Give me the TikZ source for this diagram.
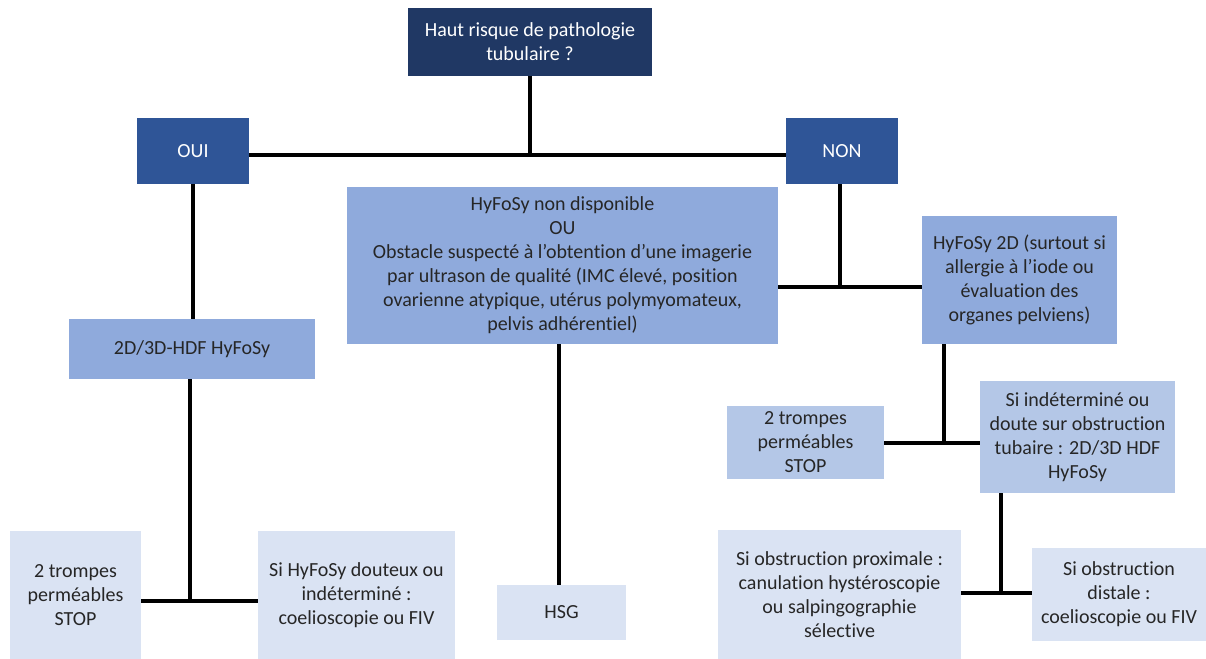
\documentclass[tikz,border=0pt]{standalone}
\usepackage{fontspec}
\setmainfont{Carlito}[Ligatures=CommonOff]
\usetikzlibrary{fit}
\definecolor{navy}{HTML}{203864}
\definecolor{midblue}{HTML}{2F5597}
\definecolor{boxA}{HTML}{8FAADC}
\definecolor{boxB}{HTML}{B4C7E7}
\definecolor{boxC}{HTML}{DAE3F3}
\definecolor{txt}{HTML}{262626}
\begin{document}
\begin{tikzpicture}[x=0.75pt,y=-0.75pt,
  base/.style={inner sep=0pt, align=center, font=\fontsize{15}{18}\selectfont, text=txt},
  dark/.style={base, fill=navy, text=white},
  mid/.style={base, fill=midblue, text=white},
  lvA/.style={base, fill=boxA},
  lvB/.style={base, fill=boxB},
  lvC/.style={base, fill=boxC},
  link/.style={line width=3.6pt, black}]
\useasboundingbox (0,0) rectangle (1206,659);

\node[dark, fit={(408,8)(652,76)}] (top) {};
\node[base, text=white] at (top.center) {Haut risque de pathologie\\tubulaire ?};

\node[mid, fit={(137,118)(249,184)}] (oui) {};
\node[base, text=white] at (oui.center) {OUI};
\node[mid, fit={(786,118)(898,184)}] (non) {};
\node[base, text=white] at (non.center) {NON};

\node[lvA, fit={(347,187)(778,344)}] (ctr) {};
\node[base] at (ctr.center) {HyFoSy non disponible\\OU\\Obstacle suspecté à l’obtention d’une imagerie\\par ultrason de qualité (IMC élevé, position\\ovarienne atypique, utérus polymyomateux,\\pelvis adhérentiel)};

\node[lvA, fit={(922,216)(1117,344)}] (hf2d) {};
\node[base] at (hf2d.center) {HyFoSy 2D (surtout si\\allergie à l’iode ou\\évaluation des\\organes pelviens)};

\node[lvA, fit={(69,319)(315,379)}] (hdf) {};
\node[base] at (hdf.center) {2D/3D-HDF HyFoSy};

\node[lvB, fit={(727,406)(884,479)}] (tr2) {};
\node[base] at (tr2.center) {2 trompes\\perméables\\STOP};

\node[lvB, fit={(980,381)(1175,493)}] (ind) {};
\node[base] at (ind.center) {Si indéterminé ou\\doute sur obstruction\\tubaire : 2D/3D HDF\\HyFoSy};

\node[lvC, fit={(718,530)(961,659)}] (prox) {};
\node[base] at (prox.center) {Si obstruction proximale :\\canulation hystéroscopie\\ou salpingographie\\sélective};

\node[lvC, fit={(1032,548)(1206,641)}] (dist) {};
\node[base] at (dist.center) {Si obstruction\\distale :\\coelioscopie ou FIV};

\node[lvC, fit={(10,531)(141,659)}] (tr1) {};
\node[base] at (tr1.center) {2 trompes\\perméables\\STOP};

\node[lvC, fit={(258,531)(455,659)}] (dout) {};
\node[base] at (dout.center) {Si HyFoSy douteux ou\\indéterminé :\\coelioscopie ou FIV};

\node[lvC, fit={(497,585)(626,640)}] (hsg) {};
\node[base] at (hsg.center) {HSG};

% connectors
\coordinate (j1) at (530,155);
\draw[link] (top.south -| j1) -- (j1);
\draw[link] (oui.east |- j1) -- (non.west |- j1);

\draw[link] (193,184) -- (193,319);

\coordinate (j2) at (190,601);
\draw[link] (hdf.south -| j2) -- (j2);
\draw[link] (tr1.east |- j2) -- (dout.west |- j2);

\coordinate (j3) at (840,287);
\draw[link] (non.south -| j3) -- (j3);
\draw[link] (ctr.east |- j3) -- (hf2d.west |- j3);

\coordinate (j4) at (944,443);
\draw[link] (hf2d.south -| j4) -- (j4);
\draw[link] (tr2.east |- j4) -- (ind.west |- j4);

\coordinate (j5) at (1001,593);
\draw[link] (ind.south -| j5) -- (j5);
\draw[link] (prox.east |- j5) -- (dist.west |- j5);

\coordinate (j6) at (559,400);
\draw[link] (ctr.south -| j6) -- (hsg.north -| j6);
\end{tikzpicture}
\end{document}
